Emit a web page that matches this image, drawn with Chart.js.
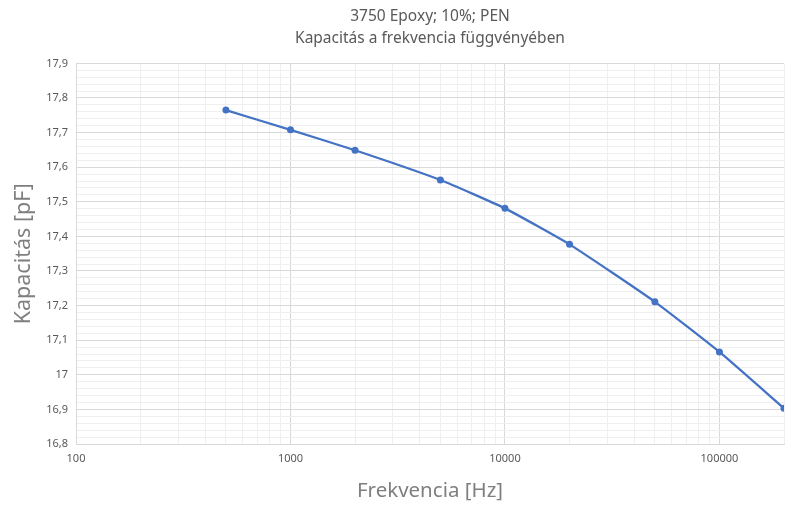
<!DOCTYPE html>
<html>
<head>
<meta charset="utf-8">
<script src="https://cdn.jsdelivr.net/npm/chart.js@4"></script>
<style>
  html, body { margin: 0; padding: 0; background: #fff; }
  #wrap { width: 796px; height: 506px; }
</style>
</head>
<body>
<div id="wrap"><canvas id="chart" width="796" height="506"></canvas></div>
<script>
// Data
const frequencies = [500, 1000, 2000, 5000, 10000, 20000, 50000, 100000, 200000];
const capacitance = [17.765, 17.708, 17.649, 17.563, 17.481, 17.377, 17.211, 17.066, 16.903];

const titleLines = ['3750 Epoxy; 10%; PEN', 'Kapacitás a frekvencia függvényében'];
const xTitle = 'Frekvencia [Hz]';
const yTitle = 'Kapacitás [pF]';

// axis ranges and ticks
const xMin = 100, xMax = 200000;
const xDecades = [100, 1000, 10000, 100000];
const xMultipliers = [1, 2, 3, 4, 5, 6, 7, 8, 9];
const yMin = 16.8, yMax = 17.9, yMinorStep = 0.02;

const xTicks = [];
xDecades.forEach(d => xMultipliers.forEach(m => { if (d * m <= xMax) xTicks.push(d * m); }));
const yTicks = [];
for (let i = 0; i <= Math.round((yMax - yMin) / yMinorStep); i++) {
    yTicks.push(Math.round((yMin + i * yMinorStep) * 100) / 100);
}

const FONT = '"Noto Sans", "Open Sans", sans-serif';
const isDecade = v => Math.abs(Math.log10(v) - Math.round(Math.log10(v))) < 1e-9;
const isMajorY = v => Math.abs(v * 10 - Math.round(v * 10)) < 1e-6;

new Chart(document.getElementById('chart').getContext('2d'), {
    type: 'line',
    data: {
        datasets: [{
            data: frequencies.map((f, i) => ({ x: f, y: capacitance[i] })),
            borderColor: '#4472C4',
            backgroundColor: '#4472C4',
            borderWidth: 2.25,
            pointRadius: 3.5,
            pointBorderWidth: 0,
            tension: 0.15,
            fill: false
        }]
    },
    options: {
        responsive: false,
        animation: false,
        layout: { padding: { top: 0, right: 12, bottom: 3, left: 0 } },
        plugins: {
            legend: { display: false },
            tooltip: { enabled: false },
            title: {
                display: true,
                fullSize: false,
                text: titleLines,
                color: '#595959',
                font: { family: FONT, size: 15.5, weight: 'normal', lineHeight: 1.4 },
                padding: { top: 6, bottom: 14 }
            }
        },
        scales: {
            x: {
                type: 'logarithmic',
                min: xMin,
                max: xMax,
                afterBuildTicks: s => { s.ticks = xTicks.map(v => ({ value: v })); },
                afterFit: s => { s.height = 59; },
                grid: {
                    drawTicks: false,
                    color: c => isDecade(c.tick.value) ? '#d9d9d9' : '#efefef',
                    lineWidth: 1
                },
                border: { display: true, color: '#d9d9d9' },
                ticks: {
                    autoSkip: false,
                    maxRotation: 0,
                    padding: 8,
                    color: '#595959',
                    font: { family: FONT, size: 11 },
                    callback: v => isDecade(v) ? String(Math.round(v)) : ''
                },
                title: {
                    display: true,
                    text: xTitle,
                    color: '#7f7f7f',
                    font: { family: FONT, size: 20.5 },
                    padding: { top: 0, bottom: 0 }
                }
            },
            y: {
                type: 'linear',
                min: yMin,
                max: yMax,
                afterBuildTicks: s => { s.ticks = yTicks.map(v => ({ value: v })); },
                afterFit: s => { s.width = 76; },
                grid: {
                    drawTicks: false,
                    color: c => isMajorY(c.tick.value) ? '#d9d9d9' : '#efefef',
                    lineWidth: 1
                },
                border: { display: true, color: '#d9d9d9' },
                ticks: {
                    autoSkip: false,
                    padding: 8,
                    color: '#595959',
                    font: { family: FONT, size: 11 },
                    callback: v => isMajorY(v) ? String(Math.round(v * 10) / 10).replace('.', ',') : ''
                },
                title: {
                    display: true,
                    text: yTitle,
                    color: '#7f7f7f',
                    font: { family: FONT, size: 21.5 },
                    padding: { top: 11, bottom: 0 }
                }
            }
        }
    }
});
</script>
</body>
</html>
